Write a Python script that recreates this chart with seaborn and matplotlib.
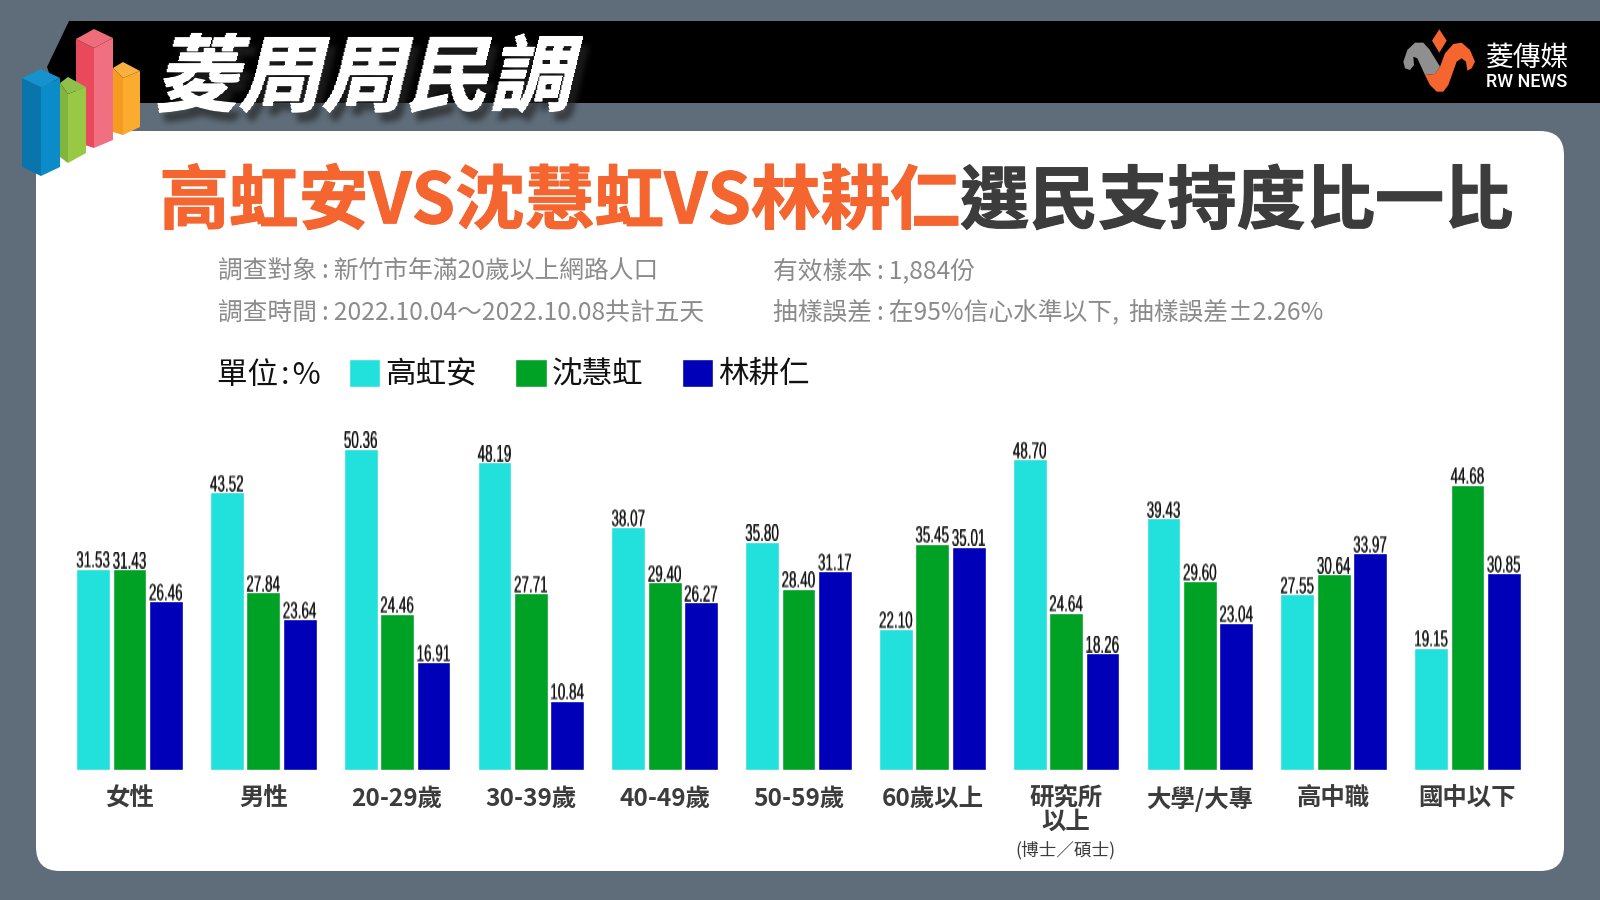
import numpy as np
import pandas as pd
import seaborn as sns
import matplotlib.pyplot as plt
import matplotlib.patheffects as pe
from matplotlib.patches import Polygon, FancyBboxPatch

# Data
groups = ["女性", "男性", "20-29歲", "30-39歲", "40-49歲", "50-59歲", "60歲以上",
          "研究所\n以上", "大學/大專", "高中職", "國中以下"]
names = ["高虹安", "沈慧虹", "林耕仁"]
gao = [31.53, 43.52, 50.36, 48.19, 38.07, 35.80, 22.10, 48.70, 39.43, 27.55, 19.15]
shen = [31.43, 27.84, 24.46, 27.71, 29.40, 28.40, 35.45, 24.64, 29.60, 30.64, 44.68]
lin = [26.46, 23.64, 16.91, 10.84, 26.27, 31.17, 35.01, 18.26, 23.04, 33.97, 30.85]
colors = ["#22e0dc", "#00a226", "#0000b8"]

df = pd.DataFrame({"group": groups, names[0]: gao, names[1]: shen, names[2]: lin})
df = df.melt(id_vars="group", var_name="name", value_name="pct")

sns.set_theme(style="white")
plt.rcParams["font.family"] = ["Noto Sans CJK TC", "DejaVu Sans"]

GREY_BG = "#5f6d7a"
DARK = "#3c3c3c"
ORANGE = "#f4652f"
INFO = "#8b8b8b"
COLON = "\u2009:\u2009"


# slanted header text with a soft drop shadow, done on the rendered text
def slant_shadow(img, dpi):
    h, w = img.shape[:2]
    s = 0.24
    pad = 24
    extra = int(s * h) + 1
    out = np.zeros((h + 2 * pad, w + extra + 2 * pad, 4))
    for r in range(h):
        shift = int(s * (h - r))
        out[r + pad, pad + shift:pad + shift + w] = img[r]
    alpha = out[:, :, 3]
    kernel = np.ones(7) / 7
    blur = np.roll(np.roll(alpha, 9, axis=0), 6, axis=1)
    for _ in range(2):
        blur = np.apply_along_axis(lambda v: np.convolve(v, kernel, mode="same"), 0, blur)
        blur = np.apply_along_axis(lambda v: np.convolve(v, kernel, mode="same"), 1, blur)
    sh = np.zeros_like(out)
    sh[:, :, 3] = blur * 0.7
    sh[:, :, :3] = 0.15
    a = alpha[:, :, None]
    res = np.zeros_like(out)
    res[:, :, :3] = out[:, :, :3] * a + sh[:, :, :3] * (1 - a)
    res[:, :, 3] = alpha + sh[:, :, 3] * (1 - alpha)
    return res, -pad, -pad


# the value labels are tall and condensed, so stretch them upwards
def stretch_up(img, dpi):
    h = img.shape[0]
    new_h = int(round(h * 1.27))
    pos = np.linspace(0, h - 1, new_h)
    low = np.floor(pos).astype(int)
    high = np.minimum(low + 1, h - 1)
    frac = (pos - low)[:, None, None]
    return img[low] * (1 - frac) + img[high] * frac, 0, 0


fig = plt.figure(figsize=(16, 9), dpi=100, facecolor=GREY_BG)

# background layer in pixel coordinates
deco = fig.add_axes([0, 0, 1, 1], zorder=0)
deco.set_xlim(0, 1600)
deco.set_ylim(900, 0)
deco.axis("off")

deco.add_patch(FancyBboxPatch((36 + 24, 131 + 24), 1528 - 48, 740 - 48,
                              boxstyle="round,pad=24,rounding_size=24",
                              fc="white", ec="none", zorder=1))
deco.add_patch(Polygon([(69, 21), (1600, 21), (1600, 103), (60, 103), (47, 67)],
                       fc="black", ec="none", zorder=2))

# bar icon, back to front
icon = [
    ([(113, 68), (123, 78), (123, 135), (113, 132)], "#f39c1f"),
    ([(123, 78), (140, 71), (140, 127), (123, 135)], "#fbac2e"),
    ([(113, 68), (123, 62), (140, 71), (123, 78)], "#fab040"),
    ([(76, 39), (94, 48), (94, 148), (76, 142)], "#e8495b"),
    ([(94, 48), (113, 38), (113, 140), (94, 148)], "#f06f80"),
    ([(76, 39), (94, 29), (113, 38), (94, 48)], "#ef6c7b"),
    ([(60, 83), (68, 94), (68, 163), (60, 157)], "#82b53c"),
    ([(68, 94), (86, 87), (86, 153), (68, 163)], "#98c844"),
    ([(60, 83), (68, 77), (86, 87), (68, 94)], "#8fc04a"),
    ([(22, 78), (41, 87), (41, 176), (22, 167)], "#0a75ad"),
    ([(41, 87), (60, 78), (60, 167), (41, 176)], "#0b8cc9"),
    ([(22, 78), (41, 69), (60, 78), (41, 87)], "#1593cf"),
]
for pts, c in icon:
    deco.add_patch(Polygon(pts, fc=c, ec="none", zorder=3))

head = deco.text(153, 80, "菱周周民調", color="white", fontsize=60, fontweight=900,
                 va="center", ha="left", zorder=4,
                 path_effects=[pe.withStroke(linewidth=1.2, foreground="white")])
head.set_agg_filter(slant_shadow)


# logo outlines were traced on a 3x crop starting at (1390, 20)
def logo_poly(pts, color):
    xy = [(1390 + x / 3, 20 + y / 3) for x, y in pts]
    deco.add_patch(Polygon(xy, fc=color, ec="none", zorder=3))


logo_poly([(148, 28), (170, 62), (148, 98), (126, 62)], ORANGE)
logo_poly([(40, 125), (52, 90), (75, 68), (100, 68), (118, 88), (150, 140), (135, 162), (105, 165),
           (82, 115), (70, 110), (72, 135), (60, 150), (45, 145)], "#8f8f8f")
logo_poly([(105, 165), (135, 162), (150, 140), (165, 100), (190, 72), (215, 68), (240, 90), (255, 125),
           (245, 145), (232, 152), (228, 125), (215, 115), (200, 125), (175, 195), (160, 215), (140, 215),
           (120, 195)], ORANGE)
deco.text(1527, 58, "菱傳媒", color="white", fontsize=20, ha="center", va="center", zorder=4)
deco.text(1527, 82, "RW NEWS", color="white", fontsize=13, fontweight="medium", family="Roboto",
          ha="center", va="center", zorder=4)

# title
thick_o = [pe.withStroke(linewidth=0.8, foreground=ORANGE)]
thick_d = [pe.withStroke(linewidth=0.8, foreground=DARK)]
deco.text(960, 203, "高虹安VS沈慧虹VS林耕仁", color=ORANGE, fontsize=50.2, fontweight=900,
          ha="right", va="center", zorder=4, path_effects=thick_o)
deco.text(960, 203, "選民支持度比一比", color=DARK, fontsize=49.8, fontweight=900,
          ha="left", va="center", zorder=4, path_effects=thick_d)

# survey notes
deco.text(218, 272, "調查對象" + COLON + "新竹市年滿20歲以上網路人口", color=INFO, fontsize=17.8, va="center", zorder=4)
deco.text(218, 314, "調查時間" + COLON + "2022.10.04～2022.10.08共計五天", color=INFO, fontsize=17.8, va="center", zorder=4)
deco.text(773, 271, "有效樣本" + COLON + "1,884份", color=INFO, fontsize=17.8, va="center", zorder=4)
deco.text(773, 312, "抽樣誤差" + COLON + "在95%信心水準以下,\u2009\u2009抽樣誤差±2.26%", color=INFO, fontsize=17.8,
          va="center", zorder=4)
deco.text(217, 375, "單位\u200a:\u200a%", color="#111111", fontsize=22, va="center", zorder=4)
deco.text(1065, 850, "(博士／碩士)", color=DARK, fontsize=12.7, ha="center", va="center", zorder=4)

# bars, axes placed so that y=0 sits on pixel row 770
ax = fig.add_axes([62.6 / 1600, (900 - 770) / 900, (1534.4 - 62.6) / 1600, 381 / 900], zorder=1)
ax.patch.set_visible(False)
sns.barplot(data=df, x="group", y="pct", hue="name", palette=colors, saturation=1,
            width=0.815, gap=0.07, ax=ax)
ax.set_xlim(-0.5, 10.5)
ax.set_ylim(0, 59.7)
ax.set_xlabel("")
ax.set_ylabel("")
ax.set_yticks([])
ax.tick_params(axis="x", length=0, pad=12)
sns.despine(ax=ax, left=True, bottom=True)
for lab in ax.get_xticklabels():
    lab.set_fontsize(17.6)
    lab.set_fontweight("bold")
    lab.set_color(DARK)
    lab.set_linespacing(0.95)

for cont in ax.containers:
    for txt in ax.bar_label(cont, fmt="%.2f", padding=-1.5, fontsize=9.7, color="#111111",
                            family=["Liberation Sans", "DejaVu Sans"],
                            path_effects=[pe.withStroke(linewidth=0.1, foreground="#111111")]):
        txt.set_agg_filter(stretch_up)

ax.legend(loc="center left", bbox_to_anchor=(349 / 1600, (900 - 374.5) / 900), bbox_transform=fig.transFigure,
          ncol=3, frameon=False, fontsize=22, borderpad=0, borderaxespad=0, handlelength=1.03, handleheight=1.03,
          handletextpad=0.15, columnspacing=1.27, title=None, labelcolor="#111111")

fig.savefig("out.png", dpi=100, facecolor=GREY_BG)
